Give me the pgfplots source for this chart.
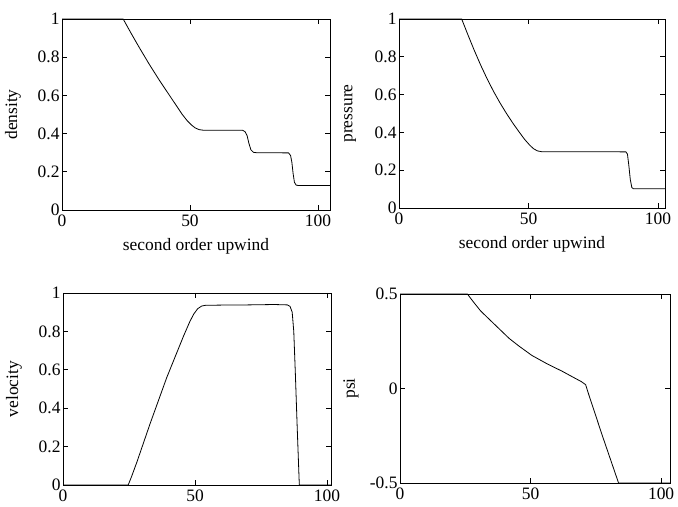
\documentclass[border=0pt]{standalone}
\usepackage{fontspec}
\setmainfont{Liberation Serif}
\usepackage{pgfplots}
\pgfplotsset{compat=1.18}
\pgfplotsset{
  every axis/.append style={
    scale only axis,
    anchor=south west,
    axis line style={line width=0.9bp},
    tick style={line width=0.7bp, black},
    major tick length=5bp,
    tick align=inside,
    /pgf/number format/assume math mode=true,
    tick label style={font=\fontsize{17.5}{20}\selectfont},
    label style={font=\fontsize{17.5}{21}\selectfont},
    xtick={0,50,100},
    xticklabel style={yshift=-1bp},
    yticklabel style={xshift=1bp},
  },
  every axis y label/.style={at={(axis description cs:0,0.5)}, xshift=-49bp, rotate=90, anchor=center},
  every axis x label/.style={at={(axis description cs:0.5,0)}, yshift=-36bp, anchor=center},
}
\begin{document}
\begin{tikzpicture}
\useasboundingbox (0bp,0bp) rectangle (678bp,507bp);
% top left: density
\begin{axis}[at={(62bp,297bp)}, width=268bp, height=191bp,
  xmin=0, xmax=104.7, ymin=0, ymax=1, ytick={0,0.2,0.4,0.6,0.8,1},
  xlabel={second order upwind}, ylabel={density}]
\addplot[black, line width=0.8bp, no marks] coordinates {(0,1)(23.9,1)(27,0.925)(30,0.855)(34,0.765)(38,0.68)(42,0.6)(45,0.54)(47,0.5)(49,0.466)(50.5,0.446)(52,0.43)(53.5,0.421)(55,0.418)(70.5,0.418)(71.5,0.41)(72.3,0.39)(73,0.35)(73.8,0.315)(74.8,0.302)(76,0.3)(88.5,0.299)(89.3,0.285)(89.8,0.25)(90.3,0.19)(90.8,0.145)(91.5,0.13)(92.5,0.128)(104.7,0.128)};
\end{axis}
% top right: pressure
\begin{axis}[at={(399bp,299bp)}, width=266bp, height=189bp,
  xmin=0, xmax=102.7, ymin=0, ymax=1, ytick={0,0.2,0.4,0.6,0.8,1},
  xlabel={second order upwind}, ylabel={pressure}]
\addplot[black, line width=0.8bp, no marks] coordinates {(0,1)(24.2,1)(26.5,0.92)(29,0.836)(31.5,0.757)(34,0.684)(36.5,0.617)(39,0.556)(41.5,0.5)(44,0.448)(46.5,0.4)(48.5,0.363)(50.5,0.332)(52,0.313)(53.5,0.302)(55,0.298)(87.6,0.297)(88.2,0.285)(88.7,0.23)(89.3,0.15)(89.9,0.108)(90.5,0.102)(91.5,0.102)(102.7,0.102)};
\end{axis}
% bottom left: velocity
\begin{axis}[at={(63bp,22bp)}, width=268bp, height=192bp,
  xmin=0, xmax=101.5, ymin=0, ymax=1, ytick={0,0.2,0.4,0.6,0.8,1},
  ylabel={velocity}]
\addplot[black, line width=0.8bp, no marks] coordinates {(0,0)(24.7,0)(26,0.045)(28,0.12)(30,0.2)(33,0.32)(39.3,0.56)(45.6,0.774)(48,0.85)(49.5,0.89)(51,0.918)(52.5,0.932)(54,0.936)(60,0.937)(70,0.938)(80,0.94)(85,0.938)(86,0.93)(86.8,0.9)(87.4,0.8)(88,0.58)(88.7,0.3)(89.5,0)(101.5,0)};
\end{axis}
% bottom right: psi
\begin{axis}[at={(400bp,24bp)}, width=270bp, height=189bp,
  xmin=0, xmax=103.4, ymin=-0.5, ymax=0.5, ytick={-0.5,0,0.5},
  ylabel={psi}]
\addplot[black, line width=0.8bp, no marks] coordinates {(0,0.5)(25.8,0.5)(28,0.46)(30.9,0.41)(35.4,0.35)(41.8,0.265)(45.5,0.225)(50.5,0.175)(56.4,0.13)(62,0.092)(66,0.062)(69.5,0.036)(71.1,0.02)(72,-0.02)(77.5,-0.25)(83.7,-0.5)(103.4,-0.5)};
\end{axis}
\end{tikzpicture}
\end{document}
